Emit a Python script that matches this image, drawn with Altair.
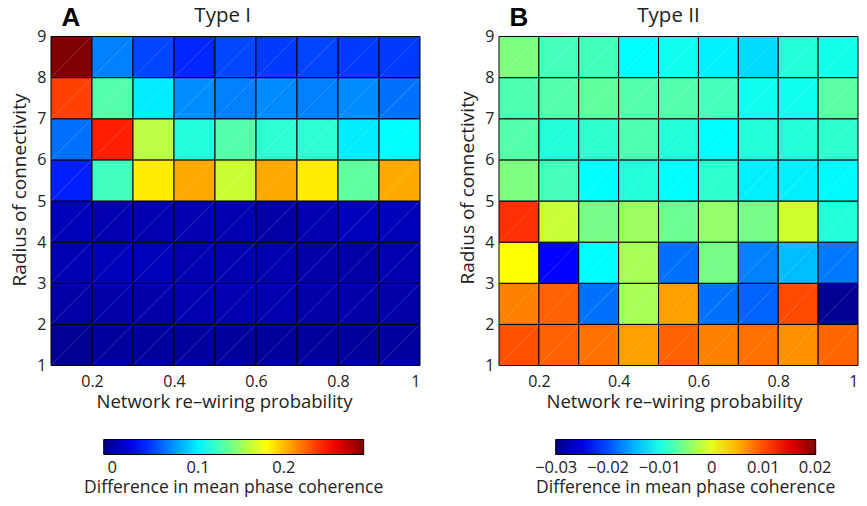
import altair as alt
import pandas as pd

# ---------------- data ----------------
prob_lo = [0.1, 0.2, 0.3, 0.4, 0.5, 0.6, 0.7, 0.8, 0.9]
prob_hi = [0.2, 0.3, 0.4, 0.5, 0.6, 0.7, 0.8, 0.9, 1.0]
radius_lo = [1, 2, 3, 4, 5, 6, 7, 8]
radius_hi = [2, 3, 4, 5, 6, 7, 8, 9]

# rows from radius 1-2 (bottom) to 8-9 (top); columns p = 0.1 ... 0.9
type1 = [
    [-0.004, -0.002, -0.002, -0.002, -0.002, -0.002, -0.002, -0.002, -0.001],
    [0.001, 0.002, 0.002, 0.004, 0.004, 0.004, 0.002, 0.002, 0.002],
    [0.005, 0.007, 0.007, 0.004, 0.004, 0.004, 0.002, 0.001, 0.004],
    [0.007, 0.004, 0.004, 0.004, 0.004, 0.001, 0.004, 0.008, 0.007],
    [0.037, 0.123, 0.185, 0.205, 0.164, 0.205, 0.185, 0.132, 0.205],
    [0.061, 0.246, 0.159, 0.114, 0.129, 0.117, 0.117, 0.098, 0.104],
    [0.236, 0.129, 0.098, 0.070, 0.066, 0.069, 0.066, 0.069, 0.061],
    [0.293, 0.066, 0.048, 0.039, 0.049, 0.045, 0.048, 0.045, 0.045],
]
type2 = [
    [0.0099, 0.0090, 0.0083, 0.0060, 0.0090, 0.0075, 0.0083, 0.0067, 0.0088],
    [0.0075, 0.0090, -0.0183, -0.0030, 0.0060, -0.0183, -0.0190, 0.0103, -0.0292],
    [0.0013, -0.0238, -0.0113, -0.0030, -0.0183, -0.0055, -0.0175, -0.0145, -0.0179],
    [0.0115, -0.0015, -0.0055, -0.0035, -0.0060, -0.0040, -0.0055, -0.0010, -0.0095],
    [-0.0050, -0.0079, -0.0113, -0.0095, -0.0113, -0.0090, -0.0120, -0.0120, -0.0115],
    [-0.0071, -0.0095, -0.0090, -0.0075, -0.0095, -0.0113, -0.0095, -0.0095, -0.0090],
    [-0.0075, -0.0071, -0.0065, -0.0071, -0.0071, -0.0079, -0.0105, -0.0105, -0.0068],
    [-0.0050, -0.0079, -0.0080, -0.0113, -0.0105, -0.0120, -0.0130, -0.0095, -0.0103],
]
domain1 = [-0.010, 0.293]
domain2 = [-0.0301, 0.0201]
ticks1 = [0, 0.1, 0.2]
ticks2 = [-0.03, -0.02, -0.01, 0, 0.01, 0.02]
x_ticks = [0.2, 0.4, 0.6, 0.8, 1.0]
y_ticks = [1, 2, 3, 4, 5, 6, 7, 8, 9]

# ---------------- styling ----------------
FONT = "Open Sans"
TXT = "#222222"
JET_POS = [0.0, 0.125, 0.375, 0.625, 0.875, 1.0]
JET = ["#00007f", "#0000ff", "#00ffff", "#ffff00", "#ff0000", "#7f0000"]
PLOT_H = 329


def make_df(vals):
    rows = []
    for j, row in enumerate(vals):
        for i, v in enumerate(row):
            rows.append({"x0": prob_lo[i], "x1": prob_hi[i],
                         "y0": radius_lo[j], "y1": radius_hi[j], "v": v})
    return pd.DataFrame(rows)


def panel(vals, domain, legend_vals, letter, title, title_x, width,
          xtitle_x, ytitle_y, legend_x):
    df = make_df(vals)
    stops = [domain[0] + f * (domain[1] - domain[0]) for f in JET_POS]
    base = alt.Chart(df)
    xs = alt.Scale(domain=[0.1, 1.0], nice=False, zero=False)
    ys = alt.Scale(domain=[1, 9], nice=False, zero=False)
    rect = base.mark_rect(stroke="black", strokeWidth=1).encode(
        x=alt.X("x0:Q", scale=xs,
                axis=alt.Axis(values=x_ticks, format="~g",
                              title="Network re\u2013wiring probability",
                              titleFontSize=18.5,
                              titleX=xtitle_x, labelPadding=8, titlePadding=3)),
        x2="x1:Q",
        y=alt.Y("y0:Q", scale=ys,
                axis=alt.Axis(values=y_ticks, format="~g",
                              title="Radius of connectivity",
                              titleY=ytitle_y, labelPadding=5, titlePadding=7)),
        y2="y1:Q",
        color=alt.Color(
            "v:Q",
            scale=alt.Scale(domain=stops, range=JET, interpolate="rgb"),
            legend=alt.Legend(
                orient="none", legendX=legend_x, legendY=403,
                direction="horizontal", gradientLength=260,
                gradientThickness=15, gradientStrokeColor="black",
                gradientStrokeWidth=1, values=legend_vals, format="~g",
                labelFont=FONT, labelFontSize=16.5, labelColor=TXT,
                labelOverlap=False, labelOffset=5,
                title="Difference in mean phase coherence", titleLimit=0,
                titleOrient="bottom", titleAnchor="middle",
                titleFont=FONT, titleFontSize=17.5, titleFontWeight="normal",
                titleColor=TXT, titlePadding=2,
            ),
        ),
    )
    diag = base.mark_rule(color="white", opacity=0.3, strokeWidth=0.6).encode(
        x="x0:Q", y="y0:Q", x2="x1:Q", y2="y1:Q"
    )
    lab = alt.Chart(alt.Data(values=[{"t": letter}])).mark_text(
        font="Liberation Sans", fontWeight="bold", fontSize=26,
        color="black", align="center", baseline="alphabetic"
    ).encode(text="t:N", x=alt.value(20), y=alt.value(-11))
    ttl = alt.Chart(alt.Data(values=[{"t": title}])).mark_text(
        font=FONT, fontSize=20.5, color=TXT, align="center",
        baseline="alphabetic"
    ).encode(text="t:N", x=alt.value(title_x), y=alt.value(-15))
    return alt.layer(rect, diag, lab, ttl).properties(width=width, height=PLOT_H)


pA = panel(type1, domain1, ticks1, "A", "Type I", 171.7, 369, 173, 153, 32.7)
pB = panel(type2, domain2, ticks2, "B", "Type II", 169.5, 359, 175, 151, 36.7)

chart = (
    alt.hconcat(pA, pB, spacing=37)
    .resolve_scale(color="independent", x="independent", y="independent")
    .resolve_legend(color="independent")
    .properties(padding={"left": 2, "top": -3.5, "right": 0, "bottom": 0})
    .configure_view(stroke=None)
    .configure_axis(domain=False, ticks=False, grid=False,
                    labelFont=FONT, labelFontSize=16, labelColor=TXT,
                    titleFont=FONT, titleFontSize=19, titleFontWeight="normal",
                    titleColor=TXT)
)

chart.save("out.html", embed_options={"renderer": "svg", "actions": False})
